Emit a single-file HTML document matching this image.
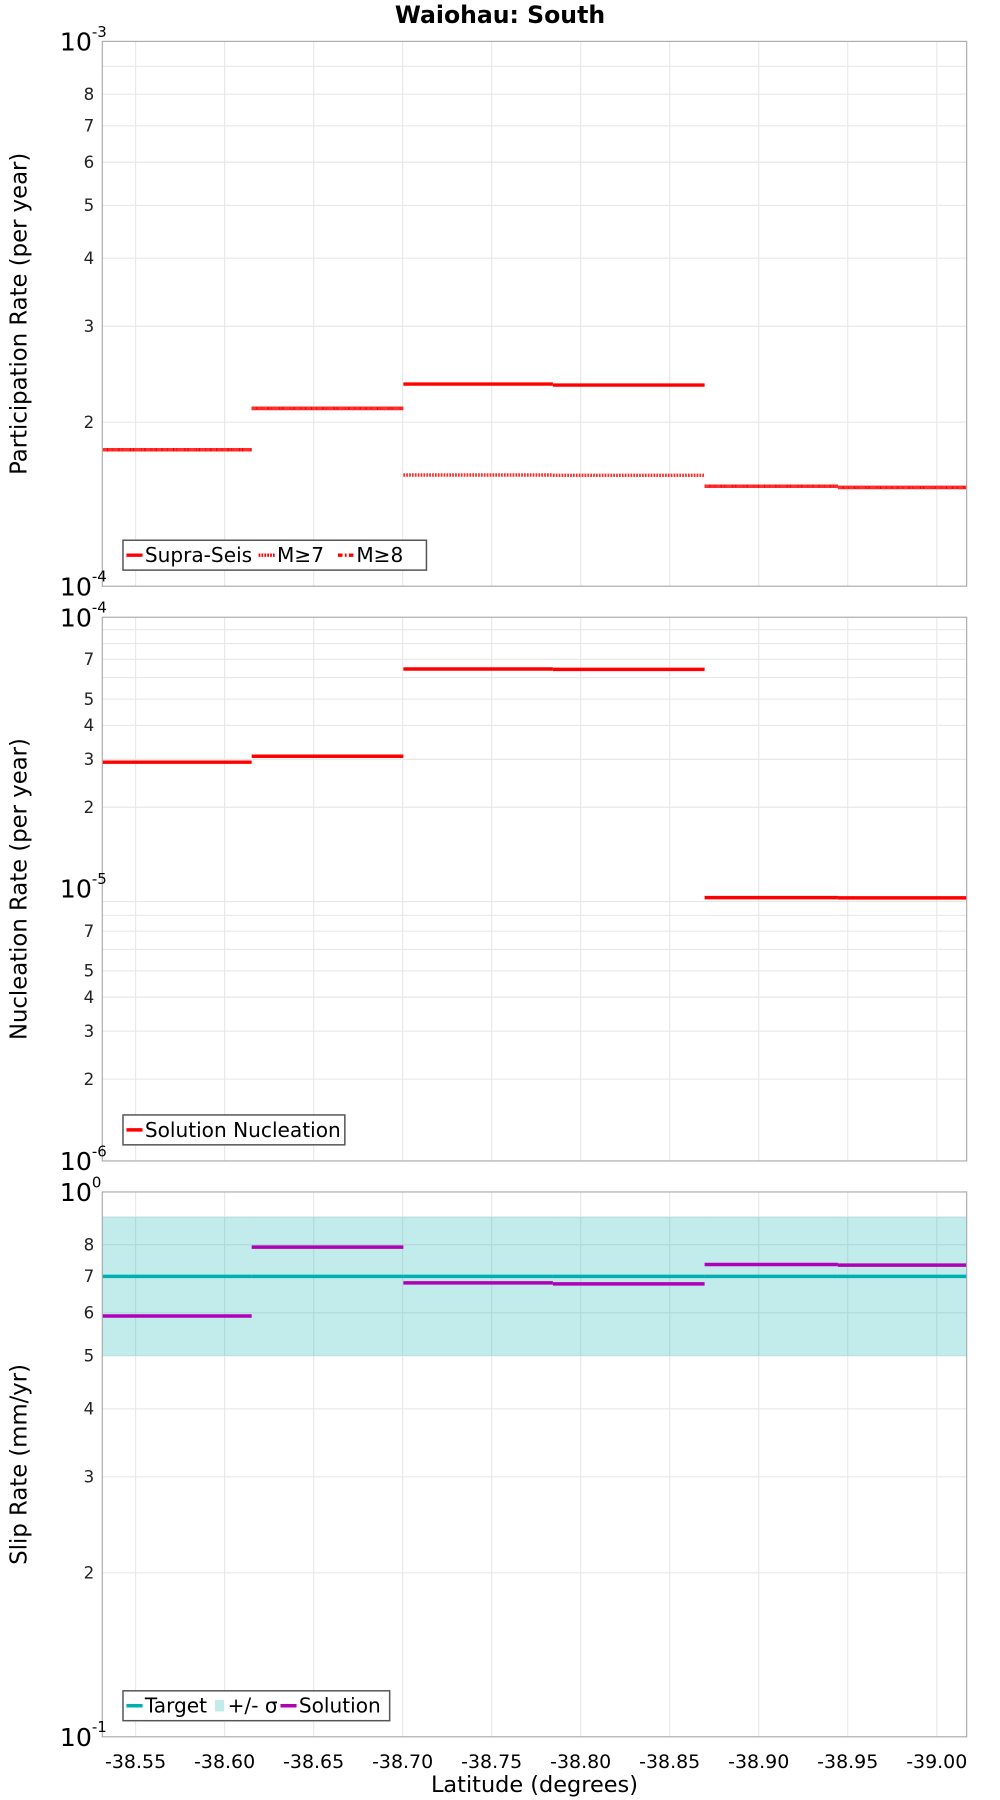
<!DOCTYPE html>
<html><head><meta charset="utf-8"><style>
html,body{margin:0;padding:0;background:#fff;width:1000px;height:1800px;overflow:hidden}
svg{display:block;font-family:"DejaVu Sans","Liberation Sans",sans-serif}
</style></head><body>
<svg id="chart" width="1000" height="1800" viewBox="0 0 870 1566" xmlns="http://www.w3.org/2000/svg">
<text x="435" y="20" text-anchor="middle" font-size="20.5" font-weight="bold">Waiohau: South</text>
</svg>
<script>
// ---- data ----
const segStart = [-38.5313, -38.6152, -38.7004, -38.7844, -38.8696, -38.9445];
const segEnd   = [-38.6152, -38.7004, -38.7844, -38.8696, -38.9445, -39.0168];
const supraSeis = [1.78e-4, 2.12e-4, 2.35e-4, 2.34e-4, 1.526e-4, 1.518e-4];
const mGe7      = [1.78e-4, 2.12e-4, 1.60e-4, 1.598e-4, 1.526e-4, 1.518e-4];
const mGe8      = [1.78e-4, 2.12e-4, null, null, 1.526e-4, 1.518e-4];
const nucleation = [2.93e-5, 3.08e-5, 6.45e-5, 6.43e-5, 9.3e-6, 9.28e-6];
const slipTarget = [7, 7, 7, 7, 7, 7];
const slipSigmaLo = [5, 5, 5, 5, 5, 5];
const slipSigmaHi = [9, 9, 9, 9, 9, 9];
const slipSolution = [5.92, 7.92, 6.81, 6.78, 7.36, 7.34];
const xTicks = [-38.55, -38.60, -38.65, -38.70, -38.75, -38.80, -38.85, -38.90, -38.95, -39.00];
const xTickLabels = ["-38.55","-38.60","-38.65","-38.70","-38.75","-38.80","-38.85","-38.90","-38.95","-39.00"];

const NS = "http://www.w3.org/2000/svg";
const svg = document.getElementById('chart');
const L = 89, R = 841;
const xMin = -38.5313, xMax = -39.0168;
function xs(v){ return L + (v - xMin) / (xMax - xMin) * (R - L); }
function mk(tag, attrs, parent){
  const e = document.createElementNS(NS, tag);
  for (const k in attrs) e.setAttribute(k, attrs[k]);
  (parent || svg).appendChild(e);
  return e;
}
function panel(cfg){
  const g = mk('g', {});
  
  
  const lmin = Math.log10(cfg.min), lmax = Math.log10(cfg.max);
  const ys = v => cfg.bottom - (Math.log10(v) - lmin) / (lmax - lmin) * (cfg.bottom - cfg.top);
  for (const t of xTicks){
    const l = mk('line', {x1: xs(t), x2: xs(t), y1: cfg.top, y2: cfg.bottom, stroke: '#e8e8e8', 'stroke-width': 1}, g);
    
    
  }
  for (let d = Math.round(lmin); d < Math.round(lmax); d++){
    for (let m = 2; m <= 9; m++){
      const v = m * Math.pow(10, d);
      const y = ys(v);
      const l = mk('line', {x1: L, x2: R, y1: y, y2: y, stroke: '#e8e8e8', 'stroke-width': 1}, g);
      
      
      if (cfg.minorLabels.includes(m)){
        const t = mk('text', {x: 82, y: y + 5, 'text-anchor': 'end', 'font-size': 14.5, fill: '#222'}, g);
        t.textContent = String(m);
        
        
      }
    }
  }
  cfg.draw(g, ys);
  mk('rect', {x: L, y: cfg.top, width: R - L, height: cfg.bottom - cfg.top, fill: 'none', stroke: '#aaa', 'stroke-width': 1}, g);
  [[cfg.bottom, cfg.minLabel], [cfg.top, cfg.maxLabel]].concat(cfg.midMajors || []).forEach(([y, e]) => {
    const t = mk('text', {x: 52, y: y + 8, 'font-size': 22, fill: '#000'}, g);
    t.textContent = '10';
    
    
    const s = mk('tspan', {dy: -12, 'font-size': 13}, t);
    s.textContent = e;
  });
  const at = mk('text', {x: 0, y: 0, transform: `translate(23 ${(cfg.top + cfg.bottom) / 2}) rotate(-90)`, 'text-anchor': 'middle', 'font-size': 19.8}, g);
  at.textContent = cfg.yTitle;
  
  
  const lg = mk('g', {}, g);
  
  
  mk('rect', {x: 107, y: cfg.bottom - 40, width: cfg.legendW, height: 26, fill: '#fff', stroke: '#555', 'stroke-width': 1.3}, lg);
  let x = 110;
  cfg.legend.forEach(it => {
    const ly = cfg.bottom - 27;
    let sw;
    if (it.band) sw = mk('rect', {x: x, y: ly - 5, width: 8, height: 10, fill: '#c1ecea'}, lg);
    else sw = mk('line', {x1: x, x2: x + 14, y1: ly, y2: ly, stroke: it.color, 'stroke-width': 3, 'stroke-dasharray': it.dash || 'none'}, lg);
    
    
    const t = mk('text', {x: x + (it.band ? 11 : 16), y: ly + 6, 'font-size': 17.5}, lg);
    t.textContent = it.label;
    
    
    x += it.w;
  });
}
function steps(g, ys, vals, color, dash, name, w){
  vals.forEach((v, i) => {
    if (v == null) return;
    const l = mk('line', {x1: xs(segStart[i]), x2: xs(segEnd[i]), y1: ys(v), y2: ys(v), stroke: color, 'stroke-width': w || 3, 'stroke-dasharray': dash || 'none'}, g);
    
    
  });
}
panel({name: 'participation-panel', top: 36, bottom: 510, min: 1e-4, max: 1e-3, minLabel: '-4', maxLabel: '-3',
  minorLabels: [2,3,4,5,6,7,8], yTitle: 'Participation Rate (per year)', legendW: 264,
  legend: [{label: 'Supra-Seis', color: 'red', w: 115}, {label: 'M≥7', color: 'red', dash: '1.5 1', w: 69}, {label: 'M≥8', color: 'red', dash: '4 2 1.5 2', w: 60}],
  draw: (g, ys) => {
    steps(g, ys, supraSeis, 'red', null, 'supra-seis-segment');
    steps(g, ys, mGe7, '#ff2a2a', '1.5 1', 'm7-segment');
    steps(g, ys, mGe8, '#ff3030', '4 2 1.5 2', 'm8-segment');
  }});
panel({name: 'nucleation-panel', top: 537, bottom: 1010, min: 1e-6, max: 1e-4, minLabel: '-6', maxLabel: '-4',
  midMajors: [[773, '-5']],
  minorLabels: [2,3,4,5,7], yTitle: 'Nucleation Rate (per year)', legendW: 193,
  legend: [{label: 'Solution Nucleation', color: 'red', w: 180}],
  draw: (g, ys) => { steps(g, ys, nucleation, 'red', null, 'nucleation-segment'); }});
panel({name: 'slip-rate-panel', top: 1037, bottom: 1511, min: 1, max: 10, minLabel: '-1', maxLabel: '0',
  minorLabels: [2,3,4,5,6,7,8], yTitle: 'Slip Rate (mm/yr)', legendW: 232,
  legend: [{label: 'Target', color: '#00b0b0', w: 77}, {label: '+/- σ', band: true, w: 57}, {label: 'Solution', color: '#b000b8', w: 90}],
  draw: (g, ys) => {
    slipSigmaLo.forEach((lo, i) => {
      const r = mk('rect', {x: xs(segStart[i]), width: xs(segEnd[i]) - xs(segStart[i]), y: ys(slipSigmaHi[i]), height: ys(lo) - ys(slipSigmaHi[i]), fill: 'rgba(0,176,176,0.24)'}, g);
      
      
    });
    steps(g, ys, slipTarget, '#00b0b0', null, 'target-segment');
    steps(g, ys, slipSolution, '#b000b8', null, 'solution-segment');
  }});
xTicks.forEach((t, i) => {
  const e = mk('text', {x: xs(t), y: 1538, 'text-anchor': 'middle', 'font-size': 16.5});
  e.textContent = xTickLabels[i];
  
  
});
const xt = mk('text', {x: 465, y: 1559, 'text-anchor': 'middle', 'font-size': 19.5});
xt.textContent = 'Latitude (degrees)';


</script>
</body></html>
